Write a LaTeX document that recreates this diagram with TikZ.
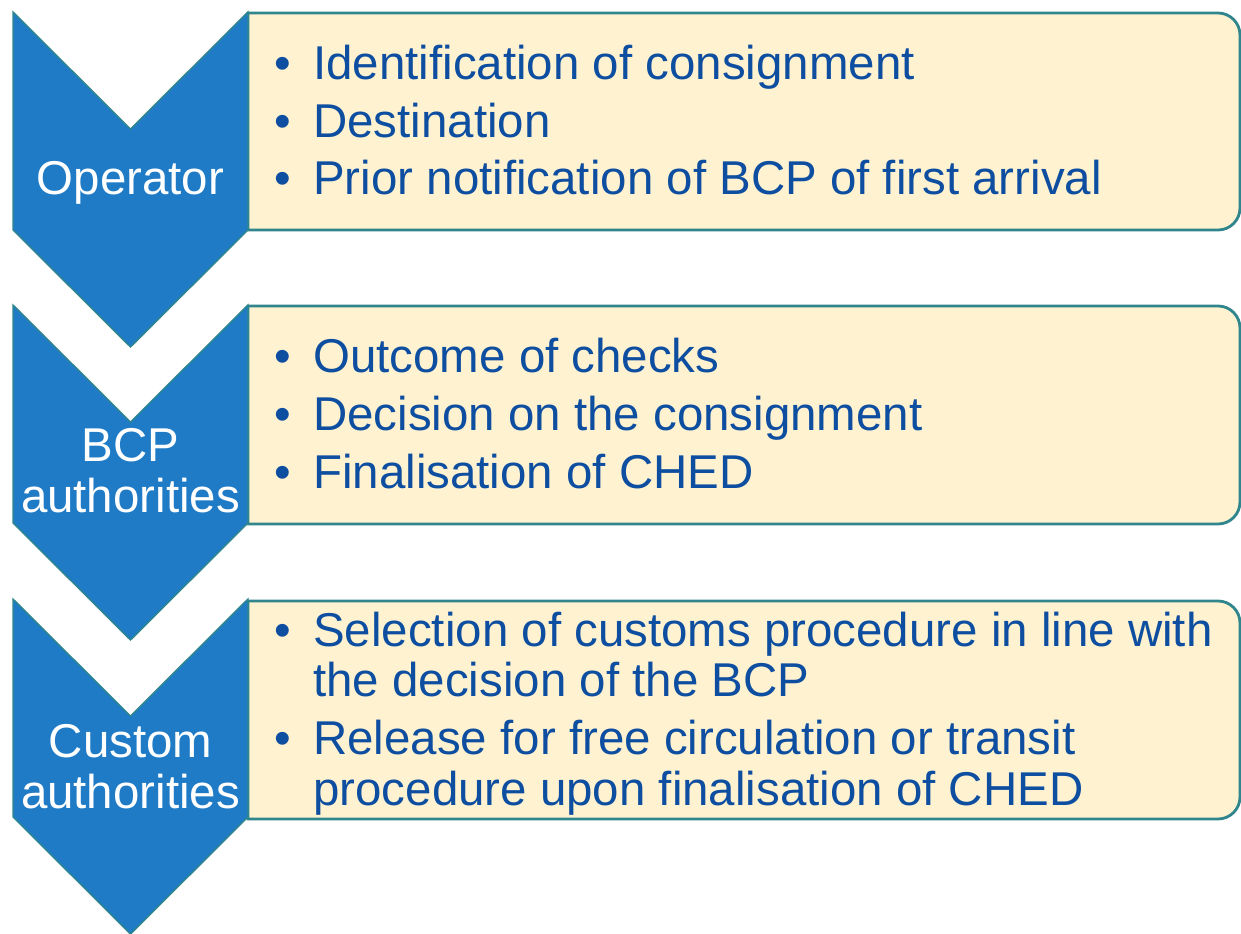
\documentclass[tikz,border=0pt]{standalone}
\usepackage{fontspec}
\setmainfont{Liberation Sans}
\usepackage{tikz}
\usepackage{color}

\definecolor{chevblue}{RGB}{31,123,198}
\definecolor{edgeteal}{RGB}{47,134,140}
\definecolor{boxcream}{RGB}{255,242,208}
\definecolor{itemblue}{RGB}{13,78,161}

\tikzset{
  chevron/.style={fill=chevblue, draw=edgeteal, line width=0.8pt},
  infobox/.style={fill=boxcream, draw=edgeteal, line width=1.6pt},
  steplabel/.style={text=white, align=center, anchor=base, inner sep=0pt,
    font=\fontsize{27}{28.5}\selectfont},
  itemlist/.style={text=itemblue, align=left, anchor=base west, inner sep=0pt,
    font=\fontsize{27}{28.5}\selectfont}
}
\newcommand{\bul}{\llap{\textbullet\hspace{12.7pt}}}

\begin{document}
\begin{tikzpicture}[scale=0.2]
\useasboundingbox (0,0) rectangle (124.1,-93.4);
\draw [infobox] (24.8,-1.3) -- (121.8,-1.3) arc (90:0:2.2) -- (124,-20.8) arc (0:-90:2.2) -- (24.8,-23) -- cycle;
\draw [infobox] (24.8,-30.6) -- (121.8,-30.6) arc (90:0:2.2) -- (124,-50.2) arc (0:-90:2.2) -- (24.8,-52.4) -- cycle;
\draw [infobox] (24.8,-60.1) -- (121.8,-60.1) arc (90:0:2.2) -- (124,-79.7) arc (0:-90:2.2) -- (24.8,-81.9) -- cycle;
\draw [chevron] (1.3,-1.2) -- (13.05,-12.9) -- (24.8,-1.2) -- (24.8,-23) -- (13.05,-34.7) -- (1.3,-23) -- cycle;
\draw [chevron] (1.3,-30.5) -- (13.05,-42.2) -- (24.8,-30.5) -- (24.8,-52.3) -- (13.05,-64) -- (1.3,-52.3) -- cycle;
\draw [chevron] (1.3,-59.9) -- (13.05,-71.6) -- (24.8,-59.9) -- (24.8,-81.7) -- (13.05,-93.4) -- (1.3,-81.7) -- cycle;
% labels sit on the baseline of their last line
\node [steplabel] (operator) at (13.05,-19.5) {Operator};
\node [steplabel] (bcpauth) at (13.05,-51.2) {BCP\\authorities};
\node [steplabel] (customauth) at (13.05,-80.8) {Custom\\authorities};
\node [itemlist] (operatoritems) at (31.3,-19.5) {\bul Identification of consignment\\[4.5pt]
  \bul Destination\\[4.5pt]
  \bul Prior notification of BCP of first arrival};
\node [itemlist] (bcpitems) at (31.3,-48.8) {\bul Outcome of checks\\[4.5pt]
  \bul Decision on the consignment\\[4.5pt]
  \bul Finalisation of CHED};
\node [itemlist] (customitems) at (31.3,-80.5) {\bul Selection of customs procedure in line with\\
  the decision of the BCP\\[4.5pt]
  \bul Release for free circulation or transit\\
  procedure upon finalisation of CHED};
\end{tikzpicture}
\end{document}
